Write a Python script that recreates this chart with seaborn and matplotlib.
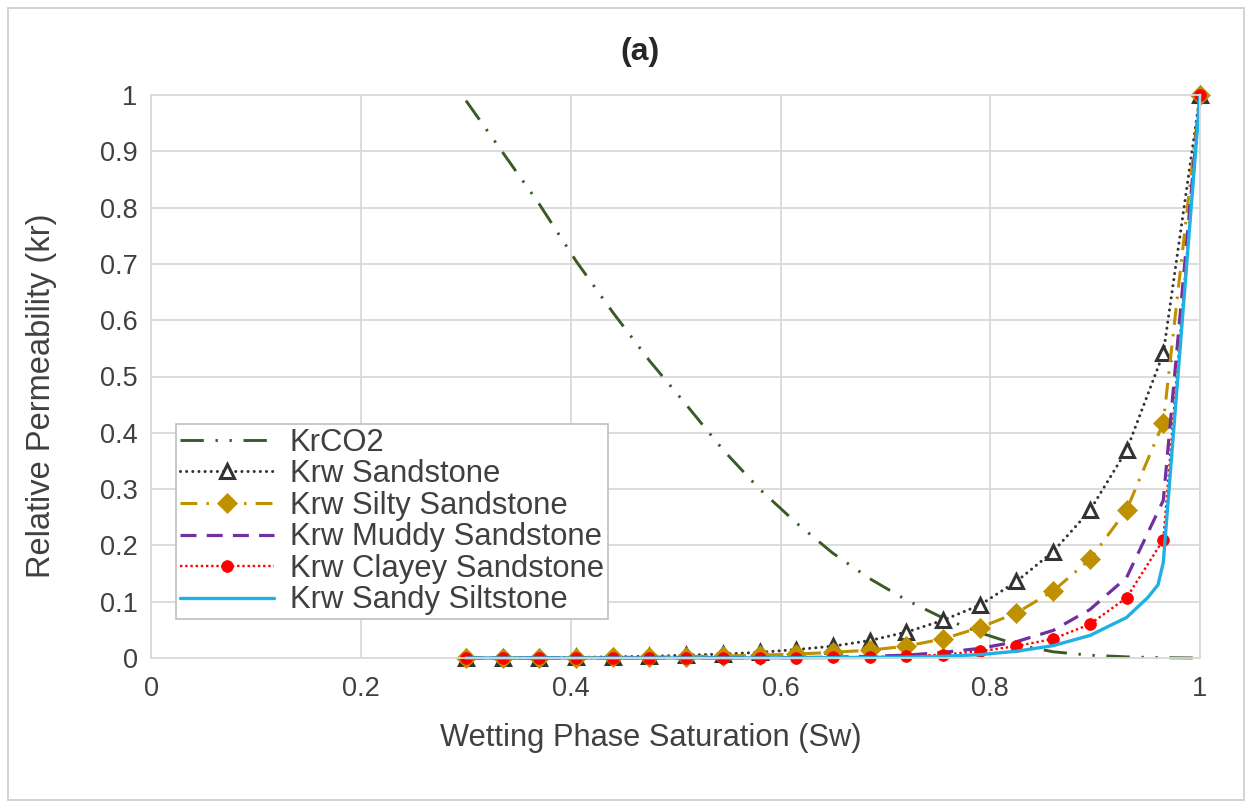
import matplotlib
matplotlib.use("Agg")
import matplotlib.pyplot as plt
import seaborn as sns
from matplotlib.patches import Rectangle

# ---------------- data ----------------
sw = [0.300, 0.335, 0.370, 0.405, 0.440, 0.475, 0.510, 0.545, 0.580, 0.615, 0.650,
      0.685, 0.720, 0.755, 0.790, 0.825, 0.860, 0.895, 0.930, 0.965, 1.000]

kr_co2 = [0.99, 0.898, 0.806, 0.705, 0.614, 0.528, 0.45, 0.37, 0.30, 0.24, 0.186,
          0.141, 0.103, 0.071, 0.045, 0.024, 0.011, 0.005, 0.002, 0.0005, 0.0]

krw_sandstone = [0.0, 0.0002, 0.0005, 0.001, 0.002, 0.003, 0.005, 0.007, 0.010, 0.015, 0.021,
                 0.031, 0.046, 0.067, 0.094, 0.136, 0.189, 0.262, 0.369, 0.541, 1.0]

krw_silty = [0.0, 0.0001, 0.0003, 0.0006, 0.001, 0.0015, 0.0025, 0.0035, 0.005, 0.007, 0.010,
             0.014, 0.021, 0.034, 0.054, 0.080, 0.119, 0.175, 0.263, 0.418, 1.0]

krw_muddy = [0.0, 0.0, 0.0, 0.0, 0.0001, 0.0001, 0.0002, 0.0003, 0.0005, 0.0008, 0.0015,
             0.003, 0.005, 0.010, 0.017, 0.029, 0.049, 0.086, 0.143, 0.28, 1.0]

krw_clayey = [0.0, 0.0, 0.0, 0.0, 0.0, 0.0001, 0.0001, 0.0002, 0.0004, 0.0006, 0.001,
              0.002, 0.003, 0.006, 0.012, 0.021, 0.034, 0.060, 0.107, 0.210, 1.0]

sw_siltstone = [0.300, 0.335, 0.370, 0.405, 0.440, 0.475, 0.510, 0.545, 0.580, 0.615, 0.650,
                0.685, 0.720, 0.755, 0.790, 0.825, 0.860, 0.895, 0.930, 0.950, 0.960, 0.965, 1.000]
krw_siltstone = [0.0, 0.0, 0.0, 0.0, 0.0, 0.0, 0.0001, 0.0001, 0.0002, 0.0004, 0.0007,
                 0.001, 0.0015, 0.003, 0.006, 0.012, 0.022, 0.040, 0.072, 0.107, 0.13, 0.17, 1.0]

labels = ["KrCO2", "Krw Sandstone", "Krw Silty Sandstone", "Krw Muddy Sandstone",
          "Krw Clayey Sandstone", "Krw Sandy Siltstone"]
x_ticks = [0, 0.2, 0.4, 0.6, 0.8, 1]
x_ticklabels = ["0", "0.2", "0.4", "0.6", "0.8", "1"]
y_ticks = [0, 0.1, 0.2, 0.3, 0.4, 0.5, 0.6, 0.7, 0.8, 0.9, 1]
y_ticklabels = ["0", "0.1", "0.2", "0.3", "0.4", "0.5", "0.6", "0.7", "0.8", "0.9", "1"]

# ---------------- styling ----------------
sns.set_style("white")
plt.rcParams['font.family'] = ['Liberation Sans', 'DejaVu Sans']
TXT = "#404040"
GRID = "#d9d9d9"

W, H = 1252, 808
fig = plt.figure(figsize=(W / 100, H / 100), dpi=100)
x0, x1, yt, yb = 151.4, 1200, 95, 658
ax = fig.add_axes([x0 / W, 1 - yb / H, (x1 - x0) / W, (yb - yt) / H])

styles = [
    dict(x=sw, y=kr_co2, color="#3b5a26", lw=2.1, linestyle=(0, (8, 4, 0.8, 4, 0.8, 4))),
    dict(x=sw, y=krw_sandstone, color="#333333", lw=2.2, linestyle=(0, (0.01, 2.0)),
         dash_capstyle="round", marker="^", markersize=10, markerfacecolor="white",
         markeredgecolor="#333333", markeredgewidth=2.2),
    dict(x=sw, y=krw_silty, color="#bf9000", lw=2.2, linestyle=(0, (5.5, 3, 0.8, 3)),
         marker="D", markersize=10, markerfacecolor="#bf9000", markeredgecolor="#bf9000",
         markeredgewidth=0.5),
    dict(x=sw, y=krw_muddy, color="#7030a0", lw=2.3, linestyle=(0, (5, 3.2))),
    dict(x=sw, y=krw_clayey, color="#ff0000", lw=1.7, linestyle=(0, (1, 1.2)),
         marker="o", markersize=8.5, markerfacecolor="#ff0000", markeredgecolor="#ff0000",
         markeredgewidth=0.5),
    dict(x=sw_siltstone, y=krw_siltstone, color="#1fb0e6", lw=2.4, linestyle="-"),
]

for lab, st in zip(labels, styles):
    st = dict(st)
    xs, ys = st.pop("x"), st.pop("y")
    sns.lineplot(x=xs, y=ys, ax=ax, label=lab, clip_on=False, **st)

ax.set_xlim(0, 1)
ax.set_ylim(0, 1)
ax.set_xticks(x_ticks)
ax.set_xticklabels(x_ticklabels)
ax.set_yticks(y_ticks)
ax.set_yticklabels(y_ticklabels)
ax.grid(True, color=GRID, lw=1.3)
ax.set_axisbelow(True)
for sp in ax.spines.values():
    sp.set_color(GRID)
    sp.set_linewidth(1.3)
ax.tick_params(length=0, labelsize=19.5, labelcolor=TXT)
ax.tick_params(axis="x", pad=13)
ax.tick_params(axis="y", pad=10)
ax.set_xlabel("")
ax.set_ylabel("")

leg = ax.legend(loc="upper left", bbox_to_anchor=(176 / W, 1 - 424 / H),
                bbox_transform=fig.transFigure, frameon=True, fancybox=False,
                edgecolor="#bfbfbf", fontsize=22.3, handlelength=3.05,
                handletextpad=0.5, labelspacing=0.05, borderpad=0.12,
                borderaxespad=0, numpoints=1, framealpha=1)
leg.get_frame().set_linewidth(1.2)
for t in leg.get_texts():
    t.set_color(TXT)

fig.text(640 / W, 1 - 52 / H, "(a)", ha="center", va="center", fontsize=23,
         fontweight="bold", color="#262626")
fig.text(651 / W, 1 - 738 / H, "Wetting Phase Saturation (Sw)", ha="center",
         va="center", fontsize=22.2, color=TXT)
fig.text(42 / W, 1 - 396 / H, "Relative Permeability (kr)", ha="center",
         va="center", rotation=90, fontsize=23.5, color=TXT)

fig.patches.append(Rectangle((8 / W, 8 / H), (W - 16) / W, (H - 16) / H,
                             transform=fig.transFigure, fill=False,
                             edgecolor="#d0d0d0", lw=1.3))

fig.savefig("out.png", dpi=100)
